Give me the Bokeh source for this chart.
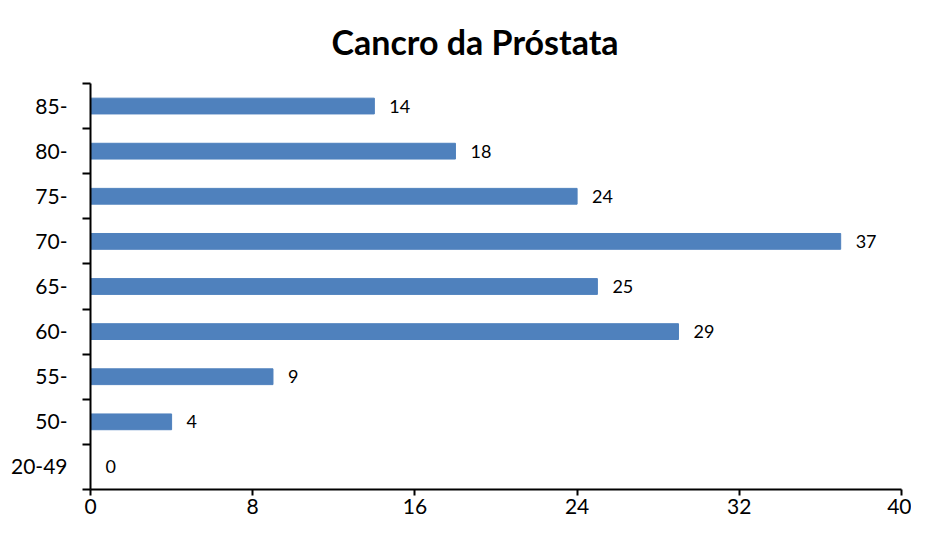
from bokeh.plotting import figure
from bokeh.models import ColumnDataSource, FixedTicker, LabelSet, Range1d, Title
from bokeh.core.properties import value
from bokeh.embed import file_html
from bokeh.resources import INLINE

categories = ["20-49", "50-", "55-", "60-", "65-", "70-", "75-", "80-", "85-"]
values = [0, 4, 9, 29, 25, 37, 24, 18, 14]
x_ticks = [0, 8, 16, 24, 32, 40]
title_text = "Cancro da Próstata"

centers = [i + 0.5 for i in range(len(categories))]
bounds = list(range(len(categories) + 1))

src = ColumnDataSource(dict(y=centers, v=values, lab=[str(v) for v in values]))

FONT = "Lato"

p = figure(width=911, height=523, output_backend="svg", toolbar_location=None,
           x_range=Range1d(0, 40), y_range=Range1d(0, len(categories)),
           min_border_left=90, min_border_right=10, min_border_top=83, min_border_bottom=34)
p.title = None
t = Title(text=title_text, align="left", vertical_align="top", text_font=FONT,
          text_font_size="34px", text_font_style="bold", text_color="black",
          offset=241, standoff=40)
p.add_layout(t, "above")

p.hbar(y="y", right="v", left=0, height=0.35, source=src, color="#4F81BD")

labels = LabelSet(x="v", y="y", text="lab", source=src, x_offset=15, text_baseline="middle",
                  text_align="left", text_font_size="18px", text_font=value(FONT),
                  text_color="black")
p.add_layout(labels)

p.grid.visible = False
p.outline_line_color = None

p.xaxis.ticker = FixedTicker(ticks=x_ticks)
p.xaxis.major_tick_out = 6
p.xaxis.major_tick_in = 0
p.xaxis.minor_tick_out = 0
p.xaxis.minor_tick_in = 0
p.xaxis.axis_line_width = 2
p.xaxis.major_tick_line_width = 2
p.xaxis.major_label_text_font = FONT
p.xaxis.major_label_text_font_size = "21px"
p.xaxis.major_label_text_color = "black"
p.xaxis.major_label_standoff = 3

p.yaxis.ticker = FixedTicker(ticks=centers, minor_ticks=bounds)
p.yaxis.major_label_overrides = {c: lab for c, lab in zip(centers, categories)}
p.yaxis.major_tick_out = 0
p.yaxis.major_tick_in = 0
p.yaxis.minor_tick_out = 8
p.yaxis.minor_tick_in = 0
p.yaxis.axis_line_width = 2
p.yaxis.minor_tick_line_width = 2
p.yaxis.minor_tick_line_color = "black"
p.yaxis.major_label_text_font = FONT
p.yaxis.major_label_text_font_size = "21px"
p.yaxis.major_label_text_color = "black"
p.yaxis.major_label_standoff = 15

open("out.html", "w").write(file_html(p, INLINE))
